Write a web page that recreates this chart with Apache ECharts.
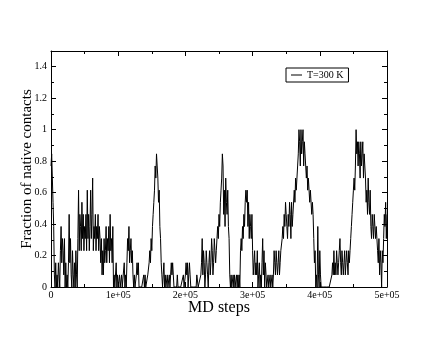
<!DOCTYPE html>
<html>
<head>
<meta charset="utf-8">
<script src="https://cdn.jsdelivr.net/npm/echarts@6/dist/echarts.min.js"></script>
<style>
  html, body { margin: 0; padding: 0; background: #fff; }
  #chart { width: 436px; height: 337px; }
</style>
</head>
<body>
<div id="chart"></div>
<script>
// native contacts formed (out of 13), one sample every 1000 MD steps
const stepSize = 1000;
const nativeTotal = 13;
const contacts0 = [10,11,9,7,5,1,0,2,0,1,0,2,1,0,3,5,2,4,3,1,4,0,2,0,1,0,2,6,2,4,1,0,3,1,0,2,0,3,1,0,4,8,3,6,5,3,7,4,6,3,5,4,6,3,8,4,6,3,5,8,4,6,9,3,5,4,6,3,5,4,6,3,5,4,2,4,1,3,1,4,2,3,5,2,4,3,5,2,6,3,4,2,5,0,1,0,0,2,0,1];
const contacts1 = [0,0,1,0,0,1,0,0,0,2,0,1,0,2,4,3,5,2,3,4,2,3,1,0,1,0,0,1,2,1,2,0,0,0,0,0,0,0,1,0,1,0,0,0,1,1,2,3,2,4,3,5,6,7,8,10,9,11,10,9,7,8,5,4,2,1,0,1,2,0,1,0,0,1,0,0,1,0,1,2,1,2,1,0,0,0,0,0,1,0,0,0,0,0,0,0,0,1,0,0];
const contacts2 = [1,2,1,2,0,1,2,1,0,0,0,0,0,0,0,0,0,1,1,0,0,0,0,1,2,4,1,3,2,0,1,3,2,1,0,2,3,1,2,4,3,1,2,4,3,2,3,4,5,4,6,5,7,8,9,11,10,6,8,5,9,7,6,8,5,4,1,0,1,0,0,1,0,1,0,0,1,0,1,0,1,0,3,4,3,5,4,6,5,7,8,7,8,5,7,4,6,5,4,6];
const contacts3 = [3,1,2,3,1,2,1,3,0,1,2,0,1,0,2,4,1,3,0,2,1,0,0,1,0,0,1,0,0,1,0,1,3,2,1,3,2,1,2,3,1,2,3,3,4,5,4,6,5,7,6,5,4,6,5,7,6,4,7,5,6,6,8,7,9,8,9,10,11,13,12,10,13,11,12,13,10,12,11,10,9,10,8,9,8,7,8,7,6,7,6,4,2,3,0,1,0,5,1,0];
const contacts4 = [3,1,0,0,0,0,0,0,0,0,0,0,0,0,0,0,0,0,1,2,1,3,1,2,1,3,2,1,2,3,4,2,1,3,2,1,2,3,1,2,3,2,1,3,2,3,4,5,6,7,8,9,8,10,13,11,12,10,12,11,9,12,10,11,12,9,11,10,9,7,8,6,9,7,6,8,5,4,6,5,4,6,5,4,5,4,3,2,4,1,3,2,0,3,2,4,6,5,7,4,6];

const contacts = [].concat(contacts0, contacts1, contacts2, contacts3, contacts4);
const seriesData = contacts.map((c, i) => [i * stepSize, c / nativeTotal]);

const serif = 'Liberation Serif';

function formatSteps(v) {
  if (v === 0) return '0';
  const s = v.toExponential(0);
  return s.replace(/e\+(\d)$/, 'e+0$1');
}

const frameAxisLine = { show: true, onZero: false, lineStyle: { color: '#000', width: 1 } };
const majorTick = { show: true, inside: true, length: 5, lineStyle: { color: '#000' } };
const minorTick = { show: true, splitNumber: 2, length: 3, lineStyle: { color: '#000' } };

const chart = echarts.init(document.getElementById('chart'));
chart.setOption({
  animation: false,
  backgroundColor: '#fff',
  grid: { left: 51, right: 49, top: 51, bottom: 50, containLabel: false },
  legend: {
    left: 286,
    top: 68,
    data: ['T=300 K'],
    icon: 'rect',
    borderColor: '#000',
    borderWidth: 1,
    borderRadius: 0,
    padding: [2, 5, 2, 5],
    itemWidth: 11,
    itemHeight: 1,
    itemGap: 6,
    textStyle: { fontFamily: serif, fontSize: 10, color: '#000' }
  },
  xAxis: [
    {
      type: 'value',
      min: 0,
      max: 500000,
      interval: 100000,
      name: 'MD steps',
      nameLocation: 'middle',
      nameGap: 13,
      nameMoveOverlap: false,
      nameTextStyle: { fontFamily: serif, fontSize: 16, color: '#000', verticalAlign: 'top' },
      axisLine: frameAxisLine,
      axisTick: majorTick,
      minorTick: minorTick,
      splitLine: { show: false },
      axisLabel: {
        margin: 3,
        fontFamily: serif,
        fontSize: 10,
        color: '#000',
        formatter: formatSteps
      }
    },
    {
      type: 'value',
      position: 'top',
      min: 0,
      max: 500000,
      interval: 100000,
      axisLine: frameAxisLine,
      axisTick: majorTick,
      minorTick: minorTick,
      splitLine: { show: false },
      axisLabel: { show: false }
    }
  ],
  yAxis: [
    {
      type: 'value',
      min: 0,
      max: 1.5,
      interval: 0.2,
      name: 'Fraction of native contacts',
      nameLocation: 'middle',
      nameGap: 16,
      nameMoveOverlap: false,
      nameTextStyle: { fontFamily: serif, fontSize: 15, color: '#000' },
      axisLine: frameAxisLine,
      axisTick: majorTick,
      minorTick: minorTick,
      splitLine: { show: false },
      axisLabel: {
        margin: 4,
        fontFamily: serif,
        fontSize: 10,
        color: '#000',
        showMaxLabel: false
      }
    },
    {
      type: 'value',
      position: 'right',
      min: 0,
      max: 1.5,
      interval: 0.2,
      axisLine: frameAxisLine,
      axisTick: majorTick,
      minorTick: minorTick,
      splitLine: { show: false },
      axisLabel: { show: false }
    }
  ],
  series: [
    {
      name: 'T=300 K',
      type: 'line',
      xAxisIndex: 0,
      yAxisIndex: 0,
      data: seriesData,
      symbol: 'none',
      lineStyle: { color: '#000', width: 1 },
      itemStyle: { color: '#000' }
    }
  ]
});
</script>
</body>
</html>
